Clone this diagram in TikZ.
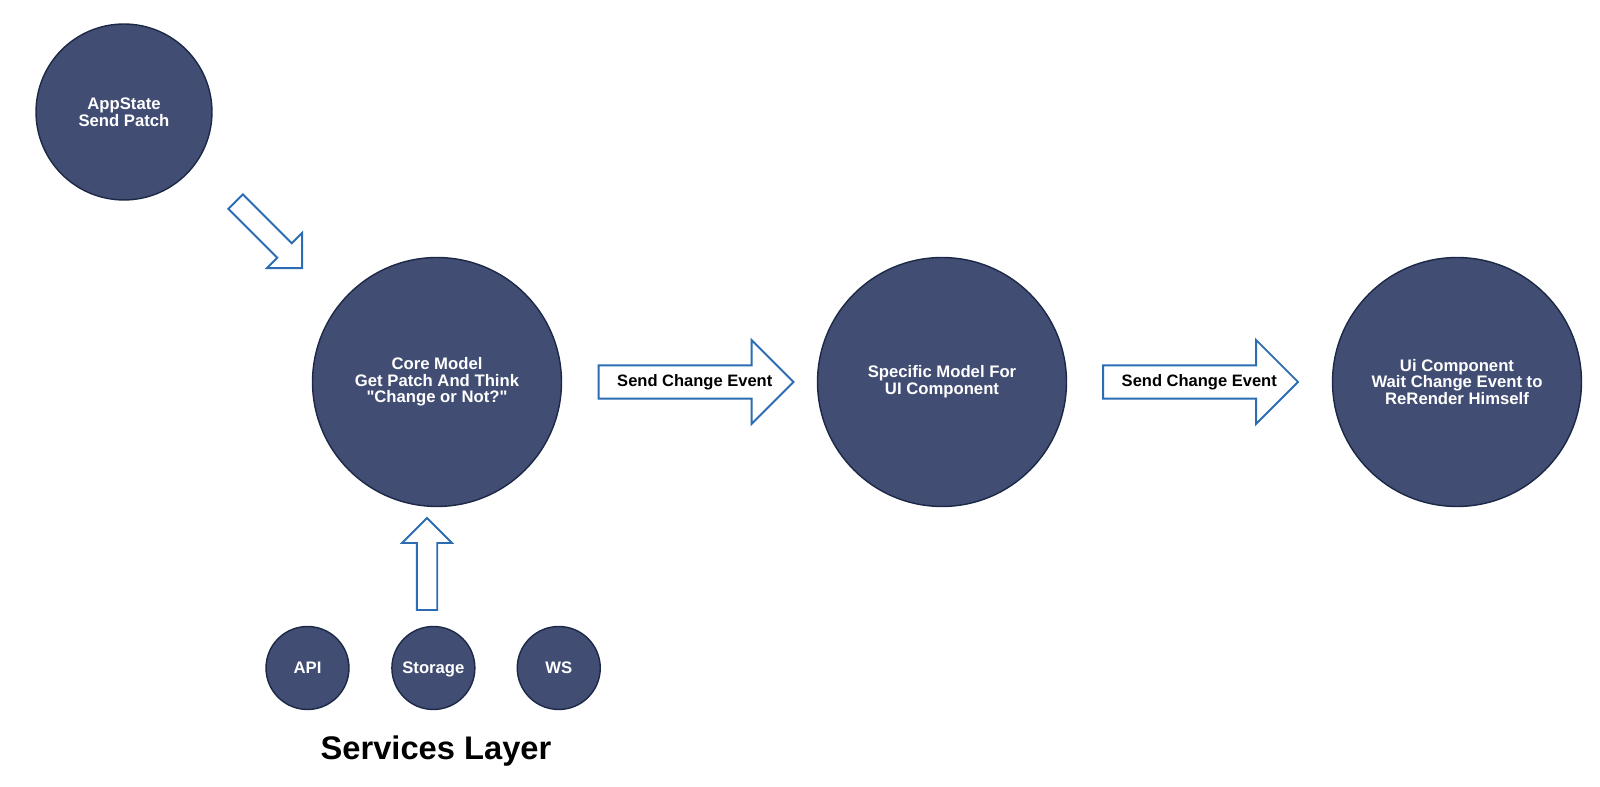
\documentclass[tikz,border=0pt]{standalone}
\usepackage{fontspec}
\setmainfont{Liberation Sans}
\usepackage{xcolor}
\definecolor{nodecolor}{HTML}{414D73}
\definecolor{edgecolor}{HTML}{1C2946}
\definecolor{arrowcolor}{HTML}{2B6CB3}
\usetikzlibrary{positioning, shapes.arrows}

\begin{document}
\begin{tikzpicture}[
  x=0.02cm, y=0.02cm,
  state/.style={circle, draw=edgecolor, line width=0.8pt, fill=nodecolor,
    text=white, minimum size=#1, inner sep=0pt, align=center,
    font=\bfseries\fontsize{9.5}{9.5}\selectfont},
  service/.style={state=1.66cm, text height=1.7ex, text depth=0.5ex},
  flow/.style={single arrow, draw=arrowcolor, line width=1.1pt, fill=white,
    single arrow head extend=0.5cm, minimum width=1.68cm, minimum height=3.9cm,
    inner xsep=0pt, inner ysep=0.155cm, font=\bfseries\fontsize{9.4}{9.4}\selectfont},
  push/.style={single arrow, draw=arrowcolor, line width=1.1pt, fill=white,
    single arrow head extend=0.295cm, minimum width=0.96cm, minimum height=#1,
    inner xsep=0pt, inner ysep=0.185cm},
]
\useasboundingbox (0,0) rectangle (1600,787);

% AppState 发出 patch
\node[state=3.52cm] (app) at (124,675) {AppState\\Send Patch};
\node[push=1.88cm, rotate=-45, anchor=tail] (patch) at (235,586) {};

% 核心模型
\node[state=4.98cm] (core) at (437,405)
  {Core Model\\Get Patch And Think\\\textquotedbl Change or Not?\textquotedbl};
\node[flow, right=0.71cm of core, anchor=tail] (send1)
  {\hspace*{0.14cm}Send Change Event\hspace*{-0.14cm}};

% 专用模型
\node[state=4.98cm] (spec) at (942,405) {Specific Model For\\ UI Component};
\node[flow, right=0.7cm of spec, anchor=tail] (send2)
  {\hspace*{0.14cm}Send Change Event\hspace*{-0.14cm}};

% UI 组件
\node[state=4.98cm] (ui) at (1457,405)
  {Ui Component\\Wait Change Event to\\ReRender Himself};

% 服务层
\node[service] (api) at (307.5,119) {API};
\node[service, right=0.83cm of api] (storage) {Storage};
\node[service, right=0.82cm of storage] (ws) {WS};
\node[push=1.84cm, rotate=90, anchor=tail] (feed) at (427,176) {};
\node[font=\bfseries\fontsize{18.6}{20}\selectfont, anchor=base] (layer) at (436,27)
  {Services Layer};

\end{tikzpicture}
\end{document}
